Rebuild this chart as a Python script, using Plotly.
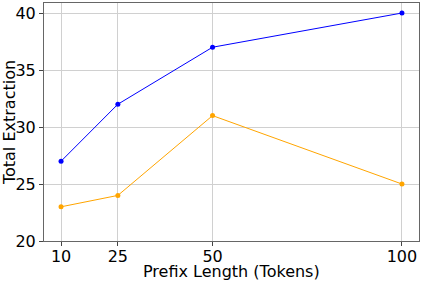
import plotly.graph_objects as go

prefix_lengths = [10, 25, 50, 100]
series_blue = [27, 32, 37, 40]
series_orange = [23, 24, 31, 25]
x_ticks = [10, 25, 50, 100]
y_ticks = [20, 25, 30, 35, 40]

fig = go.Figure()
fig.add_trace(go.Scatter(x=prefix_lengths, y=series_blue, mode="lines+markers",
                         line=dict(color="blue", width=1), marker=dict(color="blue", size=5),
                         showlegend=False))
fig.add_trace(go.Scatter(x=prefix_lengths, y=series_orange, mode="lines+markers",
                         line=dict(color="orange", width=1), marker=dict(color="orange", size=5),
                         showlegend=False))

axis_common = dict(showline=True, linecolor="#666666", linewidth=1, mirror=True,
                   showgrid=True, gridcolor="#d0d0d0", gridwidth=1,
                   ticks="outside", tickcolor="#444444", zeroline=False,
                   automargin=False,
                   tickfont=dict(size=16, color="black"))

fig.update_layout(
    width=423, height=281,
    margin=dict(l=44, r=4, t=3, b=40),
    paper_bgcolor="white", plot_bgcolor="white",
    font=dict(family="DejaVu Sans", color="black"),
    xaxis=dict(range=[5.5, 104.5], tickvals=x_ticks, ticklen=1,
               minor=dict(ticks="outside", ticklen=4, tickmode="array", tickvals=x_ticks,
                          tickcolor="#444444", showgrid=False),
               **axis_common),
    yaxis=dict(range=[20, 40.88], tickvals=y_ticks, ticklen=4,
               title=dict(text="Total Extraction", font=dict(size=16), standoff=4),
               **axis_common),
    annotations=[dict(text="Prefix Length (Tokens)", xref="paper", yref="paper",
                      x=0.5, y=0, xanchor="center", yanchor="top", yshift=-19,
                      showarrow=False, font=dict(size=16, color="black"))],
)
fig.write_html("out.html", post_script="document.body.style.margin='0';",
               config={"displayModeBar": False})
